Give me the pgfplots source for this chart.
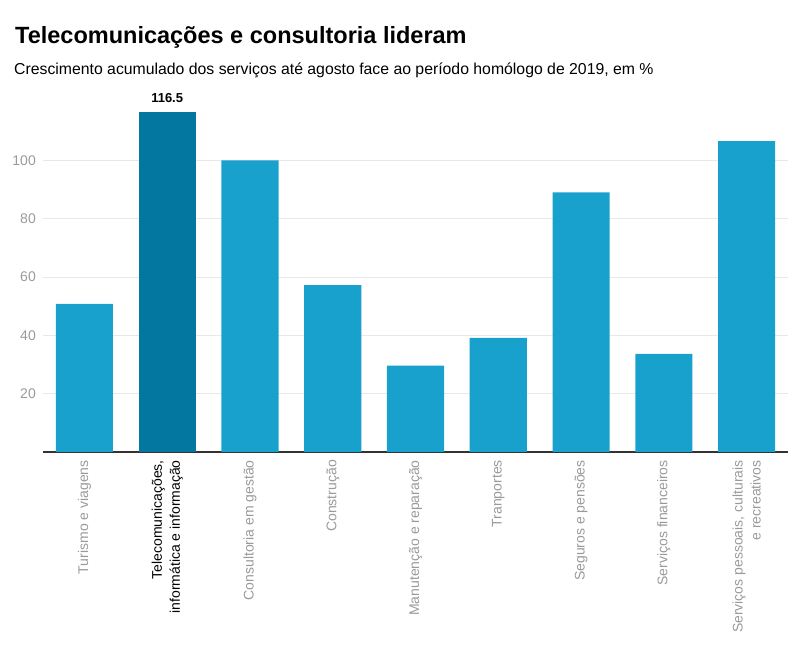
\documentclass[border=0pt]{standalone}
\usepackage{fontspec}
\setmainfont{Liberation Sans}
\usepackage{pgfplots}
\pgfplotsset{compat=1.18}
\definecolor{barlight}{HTML}{18A1CD}
\definecolor{bardark}{HTML}{0477A0}
\definecolor{gridc}{HTML}{E8E8E8}
\definecolor{tickc}{HTML}{9A9A9A}
\definecolor{axisc}{HTML}{333333}
\begin{document}
\begin{tikzpicture}[x=1pt,y=1pt]
\path[use as bounding box] (0,0) rectangle (800,650);
\node[anchor=base west, font=\fontsize{23.5}{28}\selectfont\bfseries, inner sep=0] at (15,606.7) {Telecomunicações e consultoria lideram};
\node[anchor=base west, font=\fontsize{15.8}{18}\selectfont, inner sep=0] at (14,575) {Crescimento acumulado dos serviços até agosto face ao período homólogo de 2019, em \%};
\begin{axis}[
  at={(43pt,198pt)}, anchor=south west,
  scale only axis, width=745pt, height=350pt,
  xmin=-0.5, xmax=8.5, ymin=0, ymax=120,
  clip=false,
  ybar, bar width=0.69, bar shift=0pt,
  axis x line*=bottom, axis y line*=left,
  x axis line style={draw=axisc, line width=1.1pt, -},
  y axis line style={draw=none},
  major tick length=0,
  ytick={20,40,60,80,100},
  ymajorgrids, grid style={draw=gridc, line width=0.9pt},
  /pgf/number format/assume math mode=true,
  yticklabel style={font=\fontsize{14}{16}\selectfont, text=tickc, anchor=east, inner sep=0, xshift=-7pt},
  xtick={0,1,2,3,4,5,6,7,8},
  xticklabels={
    Turismo e viagens,
    {{\color{black}Telecomunicações,}\\{\color{black}informática e informação}},
    Consultoria em gestão,
    Construção,
    Manutenção e reparação,
    Tranportes,
    Seguros e pensões,
    Serviços financeiros,
    {Serviços pessoais, culturais\\e recreativos}},
  xticklabel style={font=\fontsize{14}{18}\selectfont, text=tickc, rotate=90, anchor=east, align=right, inner sep=0, xshift=-8pt},
]
\addplot[fill=barlight, draw=none] coordinates {
  (0,50.8) (2,100) (3,57.2) (4,29.6) (5,39.1) (6,89.0) (7,33.6) (8,106.6)
};
\addplot[fill=bardark, draw=none,
  nodes near coords={\pgfmathprintnumber[assume math mode=true,fixed,precision=1]{\pgfplotspointmeta}},
  every node near coord/.append style={font=\fontsize{13}{15}\selectfont\bfseries, text=black, anchor=base, inner sep=0, yshift=9.5pt}
] coordinates {
  (1,116.5)
};
\end{axis}
\end{tikzpicture}
\end{document}
